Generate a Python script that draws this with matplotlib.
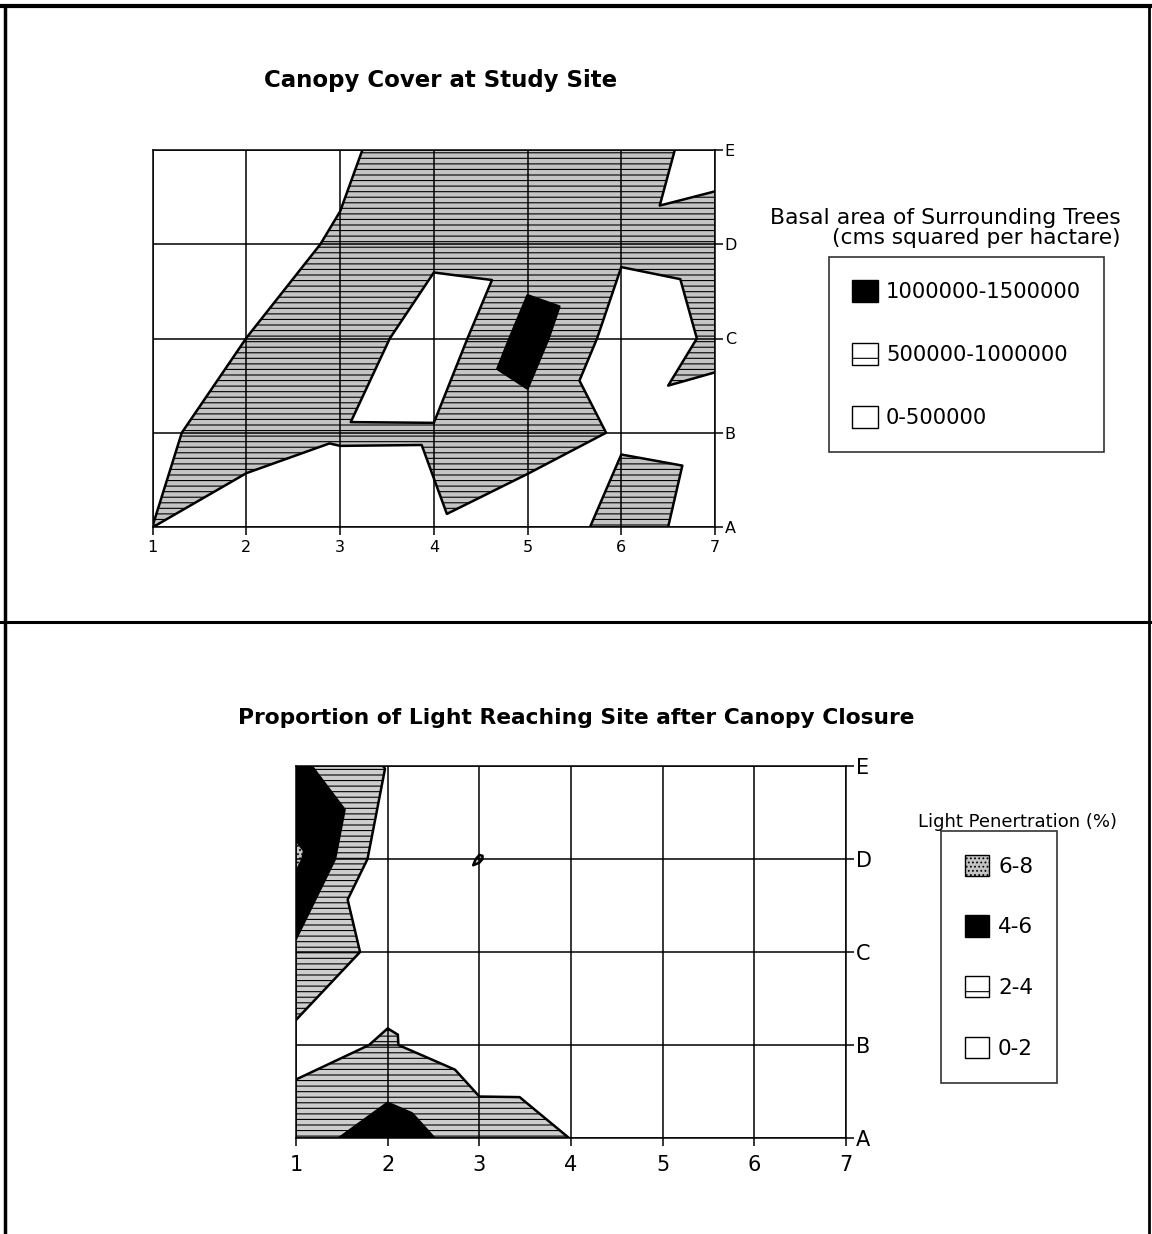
import numpy as np
import matplotlib
matplotlib.use("Agg")
import matplotlib.pyplot as plt
import matplotlib.tri as mtri
from matplotlib.patches import Patch
from matplotlib.lines import Line2D

plt.rcParams["font.family"] = ["DejaVu Sans"]
plt.rcParams["hatch.color"] = "black"
plt.rcParams["hatch.linewidth"] = 0.8

colunas = [1, 2, 3, 4, 5, 6, 7]
linhas = ["A", "B", "C", "D", "E"]

# area basal (cm2 por hectare), linhas A..E, colunas 1..7
basal_A = [502000, 100000, 185000, 450000, 100000, 700000, 300000]
basal_B = [365000, 800000, 551000, 547000, 810000, 440000, 393000]
basal_C = [150000, 502000, 951000, 100000, 1216000, 250000, 560000]
basal_D = [150000, 220000, 575000, 671000, 745000, 580000, 647000]
basal_E = [200000, 250000, 360000, 950000, 900000, 653000, 385000]
classes_basal = ["1000000-1500000", "500000-1000000", "0-500000"]

# luz (%), linhas A..E, colunas 1..7
luz_A = [3.0, 5.13, 2.91, 1.98, 0.5, 0.3, 0.2]
luz_B = [1.41, 2.15, 0.87, 0.84, 0.5, 0.3, 0.2]
luz_C = [3.6, 1.31, 0.8, 0.6, 0.4, 0.3, 0.2]
luz_D = [6.4, 0.76, 2.05, 0.6, 0.4, 0.3, 0.2]
luz_E = [4.436, 1.87, 0.9, 0.6, 0.4, 0.3, 0.2]
classes_luz = ["6-8", "4-6", "2-4", "0-2"]


def triangulos(grade):
    # cada celula vira 2 triangulos pela diagonal inferior-esquerda / superior-direita
    ny, nx = grade.shape
    xs = np.tile(colunas, ny).astype(float)
    ys = np.repeat(np.arange(ny), nx).astype(float)
    tri = []
    for j in range(ny - 1):
        for i in range(nx - 1):
            a = j * nx + i
            b, c, d = a + 1, a + nx + 1, a + nx
            tri += [[a, b, c], [a, c, d]]
    return mtri.Triangulation(xs, ys, tri), grade.ravel()


def desenha(ax, grade, niveis, cores, hachuras, fs, pad_x):
    tri, z = triangulos(grade)
    ax.tricontourf(tri, z, levels=niveis, colors=cores, hatches=hachuras, zorder=1)
    ax.tricontour(tri, z, levels=niveis[1:-1], colors="black", linewidths=1.8, zorder=3)
    ax.set_xlim(1, 7)
    ax.set_ylim(0, 4)
    ax.set_xticks(colunas)
    ax.set_yticks(range(5))
    ax.set_yticklabels(linhas)
    ax.yaxis.tick_right()
    ax.grid(True, color="black", linewidth=1.1)
    ax.set_axisbelow(False)
    for s in ax.spines.values():
        s.set_linewidth(1.1)
    ax.tick_params(axis="x", direction="out", length=6, width=1.1, labelsize=fs, pad=pad_x)
    ax.tick_params(axis="y", direction="out", length=6, width=1.1, labelsize=fs, pad=1)


W, H = 1152, 1234
fig = plt.figure(figsize=(W / 100, H / 100), dpi=100)

# grafico de cima
ax1 = fig.add_axes([152.7 / W, 1 - 527 / H, (715 - 152.7) / W, (527 - 150) / H])
basal = np.array([basal_A, basal_B, basal_C, basal_D, basal_E], dtype=float)
desenha(ax1, basal, [0, 500000, 1000000, 1500000], ["white", "#c4c4c4", "black"],
        [None, "---", None], 11.5, 3)
fig.text(441 / W, 1 - 80 / H, "Canopy Cover at Study Site", ha="center", va="center",
         fontsize=16.5, fontweight="bold")
fig.text(1121 / W, 1 - 218 / H, "Basal area of Surrounding Trees", ha="right", va="center",
         fontsize=15.8)
fig.text(1121 / W, 1 - 238 / H, "(cms squared per hactare)", ha="right", va="center",
         fontsize=15.6)
h1 = [Patch(facecolor="black", edgecolor="black"),
      Patch(facecolor="white", edgecolor="black", hatch="-"),
      Patch(facecolor="white", edgecolor="black")]
leg1 = fig.legend(h1, classes_basal, loc="upper left", bbox_to_anchor=(829 / W, 1 - 257 / H),
                  bbox_transform=fig.transFigure, fontsize=15.2, frameon=True, fancybox=False,
                  edgecolor="black", borderpad=1.1, labelspacing=1.95, handlelength=1.2,
                  handleheight=1.2, handletextpad=0.4, borderaxespad=0)
leg1.get_frame().set_linewidth(1.2)

# grafico de baixo
ax2 = fig.add_axes([296 / W, 1 - 1138 / H, (846 - 296) / W, (1138 - 766) / H])
luz = np.array([luz_A, luz_B, luz_C, luz_D, luz_E], dtype=float)
desenha(ax2, luz, [0, 2, 4, 6, 8], ["white", "#cdcdcd", "black", "#c4c4c4"],
        [None, "---", None, "...."], 15, 6)
fig.text(576 / W, 1 - 718 / H, "Proportion of Light Reaching Site after Canopy Closure",
         ha="center", va="center", fontsize=15.7, fontweight="bold")
fig.text(1018 / W, 1 - 822 / H, "Light Penertration (%)", ha="center", va="center", fontsize=13)
h2 = [Patch(facecolor="#c4c4c4", edgecolor="black", hatch="...."),
      Patch(facecolor="black", edgecolor="black"),
      Patch(facecolor="white", edgecolor="black", hatch="-"),
      Patch(facecolor="white", edgecolor="black")]
leg2 = fig.legend(h2, classes_luz, loc="upper left", bbox_to_anchor=(941 / W, 1 - 831 / H),
                  bbox_transform=fig.transFigure, fontsize=15.5, frameon=True, fancybox=False,
                  edgecolor="black", borderpad=1.1, labelspacing=1.8, handlelength=1.15,
                  handleheight=1.15, handletextpad=0.4, borderaxespad=0)
leg2.get_frame().set_linewidth(1.2)

# moldura da pagina
for xs, ys, lw in [([5, 5], [6, H], 2.5), ([0, W], [6, 6], 3.0),
                   ([1149, 1149], [6, H], 2.0), ([0, W], [622, 622], 2.2)]:
    fig.add_artist(Line2D([x / W for x in xs], [1 - y / H for y in ys], color="black",
                          linewidth=lw, transform=fig.transFigure))

plt.savefig("out.png", dpi=100)
plt.close(fig)
